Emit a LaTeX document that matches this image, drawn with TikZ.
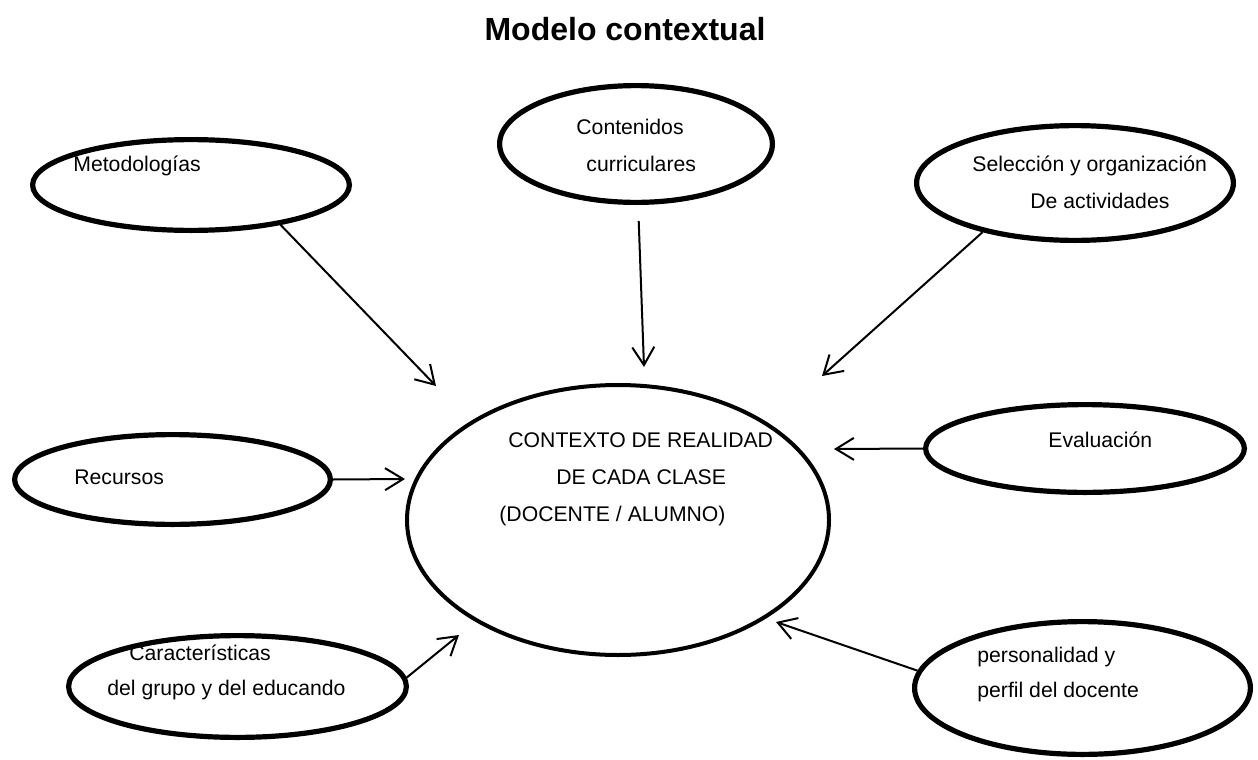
\documentclass[tikz,border=0pt]{standalone}
\usepackage{fontspec}
\setmainfont{Liberation Sans}
\usetikzlibrary{shapes.geometric,arrows.meta}
\tikzset{
  bubble/.style={ellipse,draw,line width=2.6pt,inner sep=0pt},
  lbl/.style={anchor=base west,inner sep=0pt,font=\fontsize{10.6pt}{12pt}\selectfont},
  conn/.style={line width=1pt,-{Straight Barb[length=9pt,width=11pt,line width=1pt]}}
}
\begin{document}
\begin{tikzpicture}[x=0.5pt,y=-0.5pt]
\useasboundingbox (0,0) rectangle (1258,760);
% title
\node[anchor=base,inner sep=0pt,font=\fontsize{16pt}{18pt}\selectfont\bfseries] (title) at (625,40) {Modelo contextual};
% texts
\node[lbl] (tmet) at (73,171) {Metodologías};
\node[lbl] (tcont1) at (576,134) {Contenidos};
\node[lbl] (tcont2) at (586,171) {curriculares};
\node[lbl] (tsel1) at (972,171) {Selección y organización};
\node[lbl] (tsel2) at (1030,208) {De actividades};
\node[lbl] (teval) at (1048,447) {Evaluación};
\node[lbl] (trec) at (74,484) {Recursos};
\node[lbl] (tc1) at (508,447) {CONTEXTO DE REALIDAD};
\node[lbl] (tc2) at (556,484) {DE CADA CLASE};
\node[lbl] (tc3) at (499,521) {(DOCENTE / ALUMNO)};
\node[lbl] (tcar1) at (129,660) {Características};
\node[lbl] (tcar2) at (107,695) {del grupo y del educando};
\node[lbl] (tper1) at (977,662) {personalidad y};
\node[lbl] (tper2) at (977,697) {perfil del docente};
% ellipses
\node[bubble,minimum width=158.4pt,minimum height=45.4pt] (met) at (191,185) {};
\node[bubble,minimum width=136.4pt,minimum height=58.4pt] (cont) at (636,144) {};
\node[bubble,minimum width=158.4pt,minimum height=57.4pt] (sel) at (1075,183) {};
\node[bubble,minimum width=159.4pt,minimum height=43.9pt] (eval) at (1085,448.5) {};
\node[bubble,minimum width=157.9pt,minimum height=44.9pt] (rec) at (172.5,479.5) {};
\node[bubble,line width=2pt,minimum width=211pt,minimum height=135pt] (ctx) at (618,520) {};
\node[bubble,minimum width=168.9pt,minimum height=50.9pt] (car) at (237.5,686.5) {};
\node[bubble,minimum width=167.9pt,minimum height=66.4pt] (per) at (1082.5,688) {};
% arrow ends
\coordinate (emet) at (436,386);
\coordinate (econt) at (644,367);
\coordinate (esel) at (822,376);
\coordinate (eeval) at (834,449);
\coordinate (erec) at (405,479);
\coordinate (ecar) at (459,635);
\coordinate (eper) at (776,622);
% connectors
\draw[conn] (met.-24) -- (emet);
\draw[conn,shorten <=8pt] (cont.-88) -- (econt);
\draw[conn] (sel.208) -- (esel);
\draw[conn] (eval.west) -- (eeval);
\draw[conn] (rec.east) -- (erec);
\draw[conn] (car.3.4) -- (ecar);
\draw[conn] (per.174.7) -- (eper);
\end{tikzpicture}
\end{document}
